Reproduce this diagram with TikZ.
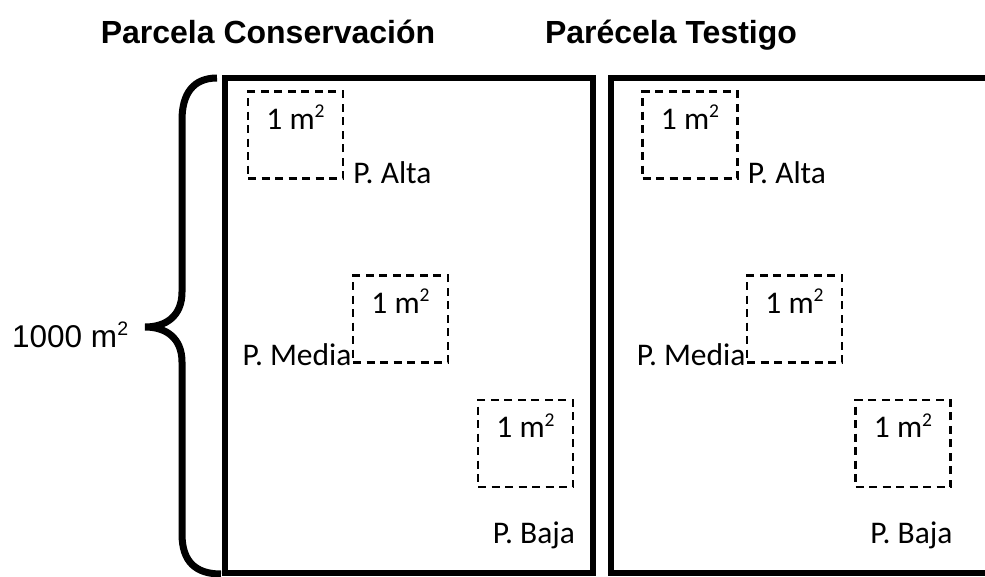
\documentclass[tikz,border=0pt]{standalone}
\usepackage{fontspec}
\setmainfont{Carlito}
\newfontfamily\arialfont{Liberation Sans}
\newcommand\myssup[1]{\raisebox{0.36em}{\fontsize{0.62em}{0.62em}\selectfont #1}}
\begin{document}
\begin{tikzpicture}[x=1pt,y=-1pt,
  plotbox/.style={draw, line width=6.5pt, inner sep=0pt},
  quad/.style={draw, line width=2.5pt, dash pattern=on 8pt off 5.5pt,
    minimum width=95pt, minimum height=87pt, inner sep=0pt},
  lbl/.style={inner sep=0pt, font=\fontsize{31.5}{31.5}\selectfont},
  ttl/.style={inner sep=0pt, font=\arialfont\bfseries\fontsize{32}{32}\selectfont},
  bigtxt/.style={inner sep=0pt, font=\arialfont\fontsize{31.5}{31.5}\selectfont},
  bracestyle/.style={line width=7pt}]
\clip (0,0) rectangle (985,576);
% titles
\node[ttl, anchor=base] (t1) at (268,43) {Parcela Conservación};
\node[ttl, anchor=base] (t2) at (671,43) {Parécela Testigo};
% plots
\node[plotbox, minimum width=368pt, minimum height=495pt] (p1) at (409,325.5) {};
\node[plotbox, minimum width=389pt, minimum height=495pt] (p2) at (805.5,325.5) {};
% brace
\coordinate (bt) at (217,78);
\coordinate (bb) at (221,574);
\coordinate (tip) at (145,327);
\draw[bracestyle] (bt) .. controls (193,78) and (182,94) .. (182,120) -- (182,292)
  .. controls (182,316) and (166,327) .. (tip)
  .. controls (166,327) and (182,338) .. (182,362) -- (182,534)
  .. controls (182,562) and (196,574) .. (bb);
\node[bigtxt, anchor=base west] (area) at (12,347) {1000 m\myssup{2}};
% left plot quadrats
\node[quad] (a1) at (295.5,135) {};
\node[quad] (b1) at (400.5,319) {};
\node[quad] (c1) at (525.5,443.5) {};
% right plot quadrats
\node[quad] (a2) at (690,135) {};
\node[quad] (b2) at (794.5,319) {};
\node[quad] (c2) at (903,443.5) {};
% inner labels
\foreach \q in {a1,b1,c1,a2,b2,c2}{
  \node[lbl, anchor=base] (m\q) at ([yshift=-39pt]\q.north) {1 m\myssup{2}};
}
% position labels
\node[lbl, anchor=base west] (la1) at ([xshift=9pt,yshift=-4pt]a1.south east) {P. Alta};
\node[lbl, anchor=base east] (lb1) at ([yshift=-2pt]b1.south west) {P. Media};
\node[lbl, anchor=base east] (lc1) at ([xshift=1pt,yshift=-55pt]c1.south east) {P. Baja};
\node[lbl, anchor=base west] (la2) at ([xshift=9pt,yshift=-4pt]a2.south east) {P. Alta};
\node[lbl, anchor=base east] (lb2) at ([yshift=-2pt]b2.south west) {P. Media};
\node[lbl, anchor=base east] (lc2) at ([xshift=1pt,yshift=-55pt]c2.south east) {P. Baja};
\end{tikzpicture}
\end{document}
